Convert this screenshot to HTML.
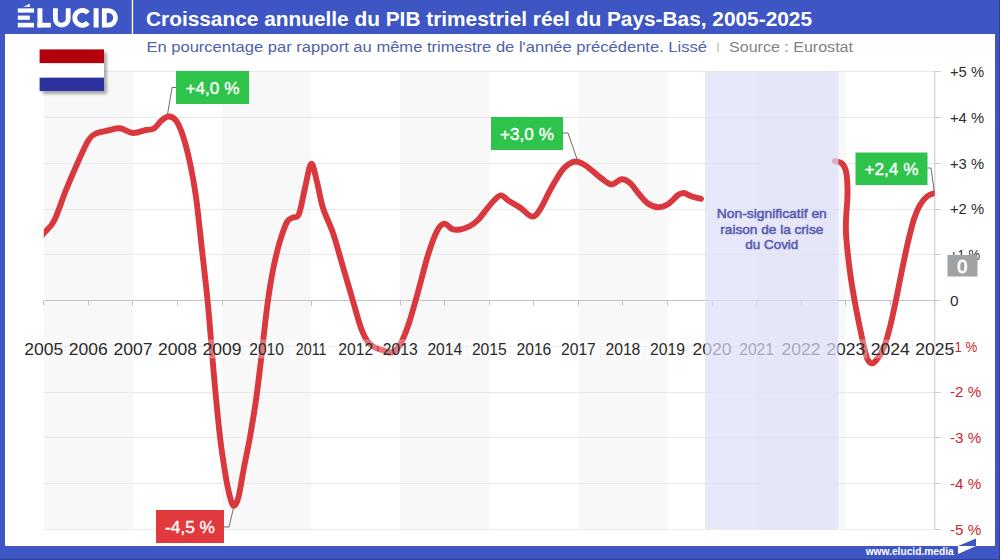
<!DOCTYPE html><html><head><meta charset="utf-8"><style>
html,body{margin:0;padding:0;width:1000px;height:560px;overflow:hidden;background:#3e56c4}
svg{position:absolute;left:0;top:0;display:block}
text{font-family:"Liberation Sans",sans-serif}
</style></head><body>
<svg width="1000" height="560" viewBox="0 0 1000 560">
<defs><clipPath id="plot"><rect x="43.8" y="0" width="891.0" height="560"/></clipPath>
<filter id="sh" x="-20%" y="-20%" width="150%" height="150%"><feGaussianBlur in="SourceAlpha" stdDeviation="1.8"/><feOffset dx="2.5" dy="2.5"/><feComponentTransfer><feFuncA type="linear" slope="0.32"/></feComponentTransfer><feMerge><feMergeNode/><feMergeNode in="SourceGraphic"/></feMerge></filter>
</defs>
<rect x="5" y="34" width="990" height="512" fill="#ffffff"/>
<rect x="43.80" y="71.2" width="89.10" height="457.8" fill="#f8f8f8"/>
<rect x="222.00" y="71.2" width="89.10" height="457.8" fill="#f8f8f8"/>
<rect x="400.20" y="71.2" width="89.10" height="457.8" fill="#f8f8f8"/>
<rect x="578.40" y="71.2" width="89.10" height="457.8" fill="#f8f8f8"/>
<rect x="756.60" y="71.2" width="89.10" height="457.8" fill="#f8f8f8"/>
<line x1="43.8" y1="529.5" x2="941" y2="529.5" stroke="#e9e9e9" stroke-width="1"/>
<line x1="43.8" y1="483.5" x2="941" y2="483.5" stroke="#e9e9e9" stroke-width="1"/>
<line x1="43.8" y1="437.5" x2="941" y2="437.5" stroke="#e9e9e9" stroke-width="1"/>
<line x1="43.8" y1="392.5" x2="941" y2="392.5" stroke="#e9e9e9" stroke-width="1"/>
<line x1="43.8" y1="346.5" x2="941" y2="346.5" stroke="#e9e9e9" stroke-width="1"/>
<line x1="43.8" y1="254.5" x2="941" y2="254.5" stroke="#e9e9e9" stroke-width="1"/>
<line x1="43.8" y1="209.5" x2="941" y2="209.5" stroke="#e9e9e9" stroke-width="1"/>
<line x1="43.8" y1="163.5" x2="941" y2="163.5" stroke="#e9e9e9" stroke-width="1"/>
<line x1="43.8" y1="117.5" x2="941" y2="117.5" stroke="#e9e9e9" stroke-width="1"/>
<line x1="43.8" y1="71.5" x2="941" y2="71.5" stroke="#e9e9e9" stroke-width="1"/>
<line x1="934.5" y1="529.5" x2="940.5" y2="529.5" stroke="#c8c8c8" stroke-width="1"/>
<line x1="934.5" y1="483.5" x2="940.5" y2="483.5" stroke="#c8c8c8" stroke-width="1"/>
<line x1="934.5" y1="437.5" x2="940.5" y2="437.5" stroke="#c8c8c8" stroke-width="1"/>
<line x1="934.5" y1="392.5" x2="940.5" y2="392.5" stroke="#c8c8c8" stroke-width="1"/>
<line x1="934.5" y1="346.5" x2="940.5" y2="346.5" stroke="#c8c8c8" stroke-width="1"/>
<line x1="934.5" y1="300.5" x2="940.5" y2="300.5" stroke="#c8c8c8" stroke-width="1"/>
<line x1="934.5" y1="254.5" x2="940.5" y2="254.5" stroke="#c8c8c8" stroke-width="1"/>
<line x1="934.5" y1="209.5" x2="940.5" y2="209.5" stroke="#c8c8c8" stroke-width="1"/>
<line x1="934.5" y1="163.5" x2="940.5" y2="163.5" stroke="#c8c8c8" stroke-width="1"/>
<line x1="934.5" y1="117.5" x2="940.5" y2="117.5" stroke="#c8c8c8" stroke-width="1"/>
<line x1="934.5" y1="71.5" x2="940.5" y2="71.5" stroke="#c8c8c8" stroke-width="1"/>
<line x1="934.8" y1="71.2" x2="934.8" y2="529.0" stroke="#c8c8c8" stroke-width="1"/>
<line x1="43.8" y1="300.5" x2="934.8" y2="300.5" stroke="#c2c2c2" stroke-width="1"/>
<line x1="43.5" y1="300.5" x2="43.5" y2="305.5" stroke="#c2c2c2" stroke-width="1"/>
<line x1="88.5" y1="300.5" x2="88.5" y2="305.5" stroke="#c2c2c2" stroke-width="1"/>
<line x1="132.5" y1="300.5" x2="132.5" y2="305.5" stroke="#c2c2c2" stroke-width="1"/>
<line x1="177.5" y1="300.5" x2="177.5" y2="305.5" stroke="#c2c2c2" stroke-width="1"/>
<line x1="222.5" y1="300.5" x2="222.5" y2="305.5" stroke="#c2c2c2" stroke-width="1"/>
<line x1="266.5" y1="300.5" x2="266.5" y2="305.5" stroke="#c2c2c2" stroke-width="1"/>
<line x1="311.5" y1="300.5" x2="311.5" y2="305.5" stroke="#c2c2c2" stroke-width="1"/>
<line x1="355.5" y1="300.5" x2="355.5" y2="305.5" stroke="#c2c2c2" stroke-width="1"/>
<line x1="400.5" y1="300.5" x2="400.5" y2="305.5" stroke="#c2c2c2" stroke-width="1"/>
<line x1="444.5" y1="300.5" x2="444.5" y2="305.5" stroke="#c2c2c2" stroke-width="1"/>
<line x1="489.5" y1="300.5" x2="489.5" y2="305.5" stroke="#c2c2c2" stroke-width="1"/>
<line x1="533.5" y1="300.5" x2="533.5" y2="305.5" stroke="#c2c2c2" stroke-width="1"/>
<line x1="578.5" y1="300.5" x2="578.5" y2="305.5" stroke="#c2c2c2" stroke-width="1"/>
<line x1="622.5" y1="300.5" x2="622.5" y2="305.5" stroke="#c2c2c2" stroke-width="1"/>
<line x1="667.5" y1="300.5" x2="667.5" y2="305.5" stroke="#c2c2c2" stroke-width="1"/>
<line x1="712.5" y1="300.5" x2="712.5" y2="305.5" stroke="#c2c2c2" stroke-width="1"/>
<line x1="756.5" y1="300.5" x2="756.5" y2="305.5" stroke="#c2c2c2" stroke-width="1"/>
<line x1="801.5" y1="300.5" x2="801.5" y2="305.5" stroke="#c2c2c2" stroke-width="1"/>
<line x1="845.5" y1="300.5" x2="845.5" y2="305.5" stroke="#c2c2c2" stroke-width="1"/>
<line x1="890.5" y1="300.5" x2="890.5" y2="305.5" stroke="#c2c2c2" stroke-width="1"/>
<line x1="934.5" y1="300.5" x2="934.5" y2="305.5" stroke="#c2c2c2" stroke-width="1"/>
<g clip-path="url(#plot)"><path d="M38.00,241.00 C39.00,239.67 41.33,236.33 44.00,233.00 C46.67,229.67 50.33,228.17 54.00,221.00 C57.67,213.83 62.00,199.83 66.00,190.00 C70.00,180.17 74.33,170.17 78.00,162.00 C81.67,153.83 85.17,145.67 88.00,141.00 C90.83,136.33 91.67,135.75 95.00,134.00 C98.33,132.25 103.83,131.45 108.00,130.50 C112.17,129.55 115.83,127.88 120.00,128.30 C124.17,128.72 128.67,132.72 133.00,133.00 C137.33,133.28 142.50,130.75 146.00,130.00 C149.50,129.25 151.50,130.00 154.00,128.50 C156.50,127.00 158.58,123.00 161.00,121.00 C163.42,119.00 166.00,116.58 168.50,116.50 C171.00,116.42 173.58,117.25 176.00,120.50 C178.42,123.75 180.67,128.92 183.00,136.00 C185.33,143.08 187.83,152.83 190.00,163.00 C192.17,173.17 194.00,182.50 196.00,197.00 C198.00,211.50 200.00,232.00 202.00,250.00 C204.00,268.00 206.00,284.00 208.00,305.00 C210.00,326.00 212.00,354.00 214.00,376.00 C216.00,398.00 218.08,420.50 220.00,437.00 C221.92,453.50 223.83,465.00 225.50,475.00 C227.17,485.00 228.58,491.87 230.00,497.00 C231.42,502.13 232.58,505.80 234.00,505.80 C235.42,505.80 236.83,503.38 238.50,497.00 C240.17,490.62 242.08,477.50 244.00,467.50 C245.92,457.50 248.00,448.25 250.00,437.00 C252.00,425.75 254.17,412.83 256.00,400.00 C257.83,387.17 259.42,373.33 261.00,360.00 C262.58,346.67 264.08,331.67 265.50,320.00 C266.92,308.33 268.08,299.17 269.50,290.00 C270.92,280.83 272.25,273.17 274.00,265.00 C275.75,256.83 277.83,248.17 280.00,241.00 C282.17,233.83 284.83,225.92 287.00,222.00 C289.17,218.08 291.00,218.83 293.00,217.50 C295.00,216.17 297.00,218.92 299.00,214.00 C301.00,209.08 302.97,196.37 305.00,188.00 C307.03,179.63 309.20,164.80 311.20,163.80 C313.20,162.80 315.03,174.63 317.00,182.00 C318.97,189.37 320.33,199.50 323.00,208.00 C325.67,216.50 329.67,223.17 333.00,233.00 C336.33,242.83 339.67,255.67 343.00,267.00 C346.33,278.33 350.00,290.83 353.00,301.00 C356.00,311.17 358.50,321.17 361.00,328.00 C363.50,334.83 365.50,338.67 368.00,342.00 C370.50,345.33 373.33,346.58 376.00,348.00 C378.67,349.42 381.67,349.75 384.00,350.50 C386.33,351.25 388.00,352.58 390.00,352.50 C392.00,352.42 394.00,351.92 396.00,350.00 C398.00,348.08 399.83,345.50 402.00,341.00 C404.17,336.50 406.33,331.17 409.00,323.00 C411.67,314.83 414.83,303.33 418.00,292.00 C421.17,280.67 424.83,265.17 428.00,255.00 C431.17,244.83 434.25,236.22 437.00,231.00 C439.75,225.78 442.00,224.03 444.50,223.70 C447.00,223.37 449.42,228.03 452.00,229.00 C454.58,229.97 457.00,230.00 460.00,229.50 C463.00,229.00 467.00,227.58 470.00,226.00 C473.00,224.42 475.33,222.67 478.00,220.00 C480.67,217.33 483.33,213.25 486.00,210.00 C488.67,206.75 491.50,202.93 494.00,200.50 C496.50,198.07 498.50,195.32 501.00,195.40 C503.50,195.48 505.83,198.98 509.00,201.00 C512.17,203.02 516.17,204.92 520.00,207.50 C523.83,210.08 528.67,216.17 532.00,216.50 C535.33,216.83 536.83,214.17 540.00,209.50 C543.17,204.83 547.33,195.00 551.00,188.50 C554.67,182.00 559.00,174.58 562.00,170.50 C565.00,166.42 566.67,165.50 569.00,164.00 C571.33,162.50 573.50,161.42 576.00,161.50 C578.50,161.58 581.33,163.00 584.00,164.50 C586.67,166.00 589.17,168.25 592.00,170.50 C594.83,172.75 597.75,175.67 601.00,178.00 C604.25,180.33 608.08,184.28 611.50,184.50 C614.92,184.72 618.42,179.55 621.50,179.30 C624.58,179.05 627.08,180.55 630.00,183.00 C632.92,185.45 636.00,190.58 639.00,194.00 C642.00,197.42 644.83,201.30 648.00,203.50 C651.17,205.70 654.60,207.12 658.00,207.20 C661.40,207.28 665.07,206.03 668.40,204.00 C671.73,201.97 675.40,196.83 678.00,195.00 C680.60,193.17 681.67,192.75 684.00,193.00 C686.33,193.25 689.17,195.53 692.00,196.50 C694.83,197.47 699.50,198.42 701.00,198.80" fill="none" stroke="#d9393e" stroke-width="5.9" stroke-linecap="round" stroke-linejoin="round"/>
<path d="M834.80,161.00 C836.08,161.50 840.55,161.83 842.50,164.00 C844.45,166.17 845.67,168.83 846.50,174.00 C847.33,179.17 847.58,187.33 847.50,195.00 C847.42,202.67 846.20,212.83 846.00,220.00 C845.80,227.17 845.57,228.83 846.30,238.00 C847.03,247.17 848.88,263.83 850.40,275.00 C851.92,286.17 853.63,295.33 855.40,305.00 C857.17,314.67 859.23,324.67 861.00,333.00 C862.77,341.33 864.42,350.00 866.00,355.00 C867.58,360.00 868.83,362.08 870.50,363.00 C872.17,363.92 873.75,363.17 876.00,360.50 C878.25,357.83 881.67,352.58 884.00,347.00 C886.33,341.42 888.00,334.83 890.00,327.00 C892.00,319.17 894.00,309.50 896.00,300.00 C898.00,290.50 900.00,279.67 902.00,270.00 C904.00,260.33 906.00,250.50 908.00,242.00 C910.00,233.50 912.00,225.17 914.00,219.00 C916.00,212.83 917.83,208.75 920.00,205.00 C922.17,201.25 924.50,198.50 927.00,196.50 C929.50,194.50 932.67,193.67 935.00,193.00 C937.33,192.33 940.00,192.58 941.00,192.50" fill="none" stroke="#d9393e" stroke-width="5.9" stroke-linecap="round" stroke-linejoin="round"/></g>
<rect x="22.3" y="339.5" width="43" height="19" fill="#ffffff" fill-opacity="0.3"/>
<rect x="66.8" y="339.5" width="43" height="19" fill="#ffffff" fill-opacity="0.3"/>
<rect x="111.4" y="339.5" width="43" height="19" fill="#ffffff" fill-opacity="0.3"/>
<rect x="155.9" y="339.5" width="43" height="19" fill="#ffffff" fill-opacity="0.3"/>
<rect x="200.5" y="339.5" width="43" height="19" fill="#ffffff" fill-opacity="0.3"/>
<rect x="245.1" y="339.5" width="43" height="19" fill="#ffffff" fill-opacity="0.3"/>
<rect x="289.6" y="339.5" width="43" height="19" fill="#ffffff" fill-opacity="0.3"/>
<rect x="334.2" y="339.5" width="43" height="19" fill="#ffffff" fill-opacity="0.3"/>
<rect x="378.7" y="339.5" width="43" height="19" fill="#ffffff" fill-opacity="0.3"/>
<rect x="423.2" y="339.5" width="43" height="19" fill="#ffffff" fill-opacity="0.3"/>
<rect x="467.8" y="339.5" width="43" height="19" fill="#ffffff" fill-opacity="0.3"/>
<rect x="512.4" y="339.5" width="43" height="19" fill="#ffffff" fill-opacity="0.3"/>
<rect x="556.9" y="339.5" width="43" height="19" fill="#ffffff" fill-opacity="0.3"/>
<rect x="601.4" y="339.5" width="43" height="19" fill="#ffffff" fill-opacity="0.3"/>
<rect x="646.0" y="339.5" width="43" height="19" fill="#ffffff" fill-opacity="0.3"/>
<rect x="690.5" y="339.5" width="43" height="19" fill="#ffffff" fill-opacity="0.3"/>
<rect x="735.1" y="339.5" width="43" height="19" fill="#ffffff" fill-opacity="0.3"/>
<rect x="779.6" y="339.5" width="43" height="19" fill="#ffffff" fill-opacity="0.3"/>
<rect x="824.2" y="339.5" width="43" height="19" fill="#ffffff" fill-opacity="0.3"/>
<rect x="868.8" y="339.5" width="43" height="19" fill="#ffffff" fill-opacity="0.3"/>
<rect x="913.3" y="339.5" width="43" height="19" fill="#ffffff" fill-opacity="0.3"/>
<g font-size="16" fill="#2a2a2a" text-anchor="middle">
<text x="43.8" y="354.8" textLength="39.00" lengthAdjust="spacingAndGlyphs">2005</text>
<text x="88.3" y="354.8" textLength="39.00" lengthAdjust="spacingAndGlyphs">2006</text>
<text x="132.9" y="354.8" textLength="39.00" lengthAdjust="spacingAndGlyphs">2007</text>
<text x="177.4" y="354.8" textLength="39.00" lengthAdjust="spacingAndGlyphs">2008</text>
<text x="222.0" y="354.8" textLength="39.00" lengthAdjust="spacingAndGlyphs">2009</text>
<text x="266.6" y="354.8" textLength="34.85" lengthAdjust="spacingAndGlyphs">2010</text>
<text x="311.1" y="354.8" textLength="30.70" lengthAdjust="spacingAndGlyphs">2011</text>
<text x="355.7" y="354.8" textLength="34.85" lengthAdjust="spacingAndGlyphs">2012</text>
<text x="400.2" y="354.8" textLength="34.85" lengthAdjust="spacingAndGlyphs">2013</text>
<text x="444.8" y="354.8" textLength="34.85" lengthAdjust="spacingAndGlyphs">2014</text>
<text x="489.3" y="354.8" textLength="34.85" lengthAdjust="spacingAndGlyphs">2015</text>
<text x="533.9" y="354.8" textLength="34.85" lengthAdjust="spacingAndGlyphs">2016</text>
<text x="578.4" y="354.8" textLength="34.85" lengthAdjust="spacingAndGlyphs">2017</text>
<text x="622.9" y="354.8" textLength="34.85" lengthAdjust="spacingAndGlyphs">2018</text>
<text x="667.5" y="354.8" textLength="34.85" lengthAdjust="spacingAndGlyphs">2019</text>
<text x="712.0" y="354.8" textLength="39.00" lengthAdjust="spacingAndGlyphs">2020</text>
<text x="756.6" y="354.8" textLength="34.85" lengthAdjust="spacingAndGlyphs">2021</text>
<text x="801.1" y="354.8" textLength="39.00" lengthAdjust="spacingAndGlyphs">2022</text>
<text x="845.7" y="354.8" textLength="39.00" lengthAdjust="spacingAndGlyphs">2023</text>
<text x="890.2" y="354.8" textLength="39.00" lengthAdjust="spacingAndGlyphs">2024</text>
<text x="934.8" y="354.8" textLength="39.00" lengthAdjust="spacingAndGlyphs">2025</text>
</g>
<rect x="705.0" y="71.2" width="133.5" height="457.8" fill="#dedefa" fill-opacity="0.7"/>
<g font-size="13" fill="#5a5db2" stroke="#5a5db2" stroke-width="0.55" text-anchor="middle">
<text x="771.8" y="218" textLength="110" lengthAdjust="spacingAndGlyphs">Non-significatif en</text><text x="771.8" y="233.5" textLength="103" lengthAdjust="spacingAndGlyphs">raison de la crise</text><text x="771.8" y="249" textLength="53" lengthAdjust="spacingAndGlyphs">du Covid</text></g>
<g font-size="15.4">
<text x="950" y="534.7" fill="#c9262c" textLength="31.2" lengthAdjust="spacingAndGlyphs">-5 %</text>
<text x="950" y="488.9" fill="#c9262c" textLength="31.2" lengthAdjust="spacingAndGlyphs">-4 %</text>
<text x="950" y="443.1" fill="#c9262c" textLength="31.2" lengthAdjust="spacingAndGlyphs">-3 %</text>
<text x="950" y="397.4" fill="#c9262c" textLength="31.2" lengthAdjust="spacingAndGlyphs">-2 %</text>
<text x="950" y="351.6" fill="#c9262c" textLength="27.2" lengthAdjust="spacingAndGlyphs">-1 %</text>
<text x="950" y="305.8" fill="#2e2e2e">0</text>
<text x="950" y="260.0" fill="#2e2e2e" textLength="30.0" lengthAdjust="spacingAndGlyphs">+1 %</text>
<text x="950" y="214.2" fill="#2e2e2e" textLength="34.0" lengthAdjust="spacingAndGlyphs">+2 %</text>
<text x="950" y="168.5" fill="#2e2e2e" textLength="34.0" lengthAdjust="spacingAndGlyphs">+3 %</text>
<text x="950" y="122.7" fill="#2e2e2e" textLength="34.0" lengthAdjust="spacingAndGlyphs">+4 %</text>
<text x="950" y="76.9" fill="#2e2e2e" textLength="34.0" lengthAdjust="spacingAndGlyphs">+5 %</text>
</g>
<rect x="947.5" y="255" width="30" height="21.5" fill="#a2a2a2"/>
<text x="962.2" y="272.6" font-size="18" fill="#ffffff" stroke="#ffffff" stroke-width="0.9" text-anchor="middle">0</text>
<polyline points="176.0,87.5 172.0,87.5 167.5,114.5" fill="none" stroke="#6e6e6e" stroke-width="1"/>
<rect x="176.0" y="71.0" width="73.0" height="33.0" fill="#2ec44c"/>
<text x="212.5" y="93.5" font-size="16.5" fill="#ffffff" stroke="#ffffff" stroke-width="0.35" text-anchor="middle" textLength="54.0" lengthAdjust="spacingAndGlyphs">+4,0 %</text>
<polyline points="563.0,133.0 568.0,133.0 577.0,159.0" fill="none" stroke="#6e6e6e" stroke-width="1"/>
<rect x="491.0" y="117.0" width="72.0" height="33.0" fill="#2ec44c"/>
<text x="527.0" y="139.5" font-size="16.5" fill="#ffffff" stroke="#ffffff" stroke-width="0.35" text-anchor="middle" textLength="54.0" lengthAdjust="spacingAndGlyphs">+3,0 %</text>
<polyline points="927.5,168.0 931.0,168.0 934.0,190.0" fill="none" stroke="#6e6e6e" stroke-width="1"/>
<rect x="855.5" y="152.5" width="72.0" height="32.5" fill="#2ec44c"/>
<text x="891.5" y="174.8" font-size="16.5" fill="#ffffff" stroke="#ffffff" stroke-width="0.35" text-anchor="middle" textLength="54.0" lengthAdjust="spacingAndGlyphs">+2,4 %</text>
<polyline points="224.0,527.0 229.0,527.0 233.5,508.0" fill="none" stroke="#6e6e6e" stroke-width="1"/>
<rect x="156.0" y="510.0" width="68.0" height="33.0" fill="#e03a3e"/>
<text x="190.0" y="532.5" font-size="16.5" fill="#ffffff" stroke="#ffffff" stroke-width="0.35" text-anchor="middle" textLength="50.0" lengthAdjust="spacingAndGlyphs">-4,5 %</text>
<g filter="url(#sh)"><rect x="39.6" y="49.4" width="64.4" height="13.9" fill="#b30508"/><rect x="39.6" y="63.3" width="64.4" height="14.4" fill="#ffffff"/><rect x="39.6" y="77.7" width="64.4" height="13.4" fill="#2e309e"/></g>
<rect x="131.8" y="0" width="1.3" height="34" fill="#ffffff"/>
<text x="146" y="25.6" font-size="20" font-weight="bold" fill="#ffffff" textLength="666" lengthAdjust="spacingAndGlyphs">Croissance annuelle du PIB trimestriel réel du Pays-Bas, 2005-2025</text>
<text x="146.4" y="52.4" font-size="14.7" fill="#5262ab" textLength="560.6" lengthAdjust="spacingAndGlyphs">En pourcentage par rapport au même trimestre de l'année précédente. Lissé</text>
<rect x="717.4" y="42.5" width="1.2" height="10" fill="#b4b4b4"/>
<text x="729" y="52.4" font-size="14.7" fill="#838383" textLength="124" lengthAdjust="spacingAndGlyphs">Source : Eurostat</text>
<g fill="#ffffff">
<rect x="17.8" y="8.4" width="16.2" height="4.2"/><rect x="17.8" y="15.6" width="12" height="4.2"/><rect x="17.8" y="22.8" width="16.2" height="4.6"/>
<polygon points="23.2,6.8 29.9,3.8 29.9,6.8"/>
</g>
<rect x="37.5" y="8.2" width="4.9" height="19.3" fill="#fff"/><rect x="37.5" y="22.8" width="13.3" height="4.7" fill="#fff"/>
<path d="M55.4,8.2 V18.9 A6.4,6.2 0 0 0 68.2,18.9 V8.2" fill="none" stroke="#fff" stroke-width="4.8"/>
<path d="M87.91,13.06 A7.45,7.45 0 1 0 87.91,22.64" fill="none" stroke="#fff" stroke-width="4.8"/>
<rect x="93.6" y="8.2" width="5" height="19.3" fill="#fff"/>
<path fill-rule="evenodd" fill="#fff" d="M101.9,8.2 H108.4 A9.5,9.65 0 0 1 108.4,27.5 H101.9 Z M106.7,12.9 H108.3 A4.9,4.95 0 0 1 108.3,22.8 H106.7 Z"/>
<text x="865.7" y="554.5" font-size="11.5" font-weight="bold" fill="#ffffff" textLength="88" lengthAdjust="spacingAndGlyphs">www.elucid.media</text>
<polygon points="958,546 976,538.5 976,546" fill="#3e56c4"/>
<polygon points="958,546 976,546 958,554" fill="#ffffff"/>
<rect x="0" y="559" width="1000" height="1" fill="#2f3f9c"/><rect x="999" y="0" width="1" height="560" fill="#2f3f9c"/>
</svg></body></html>
